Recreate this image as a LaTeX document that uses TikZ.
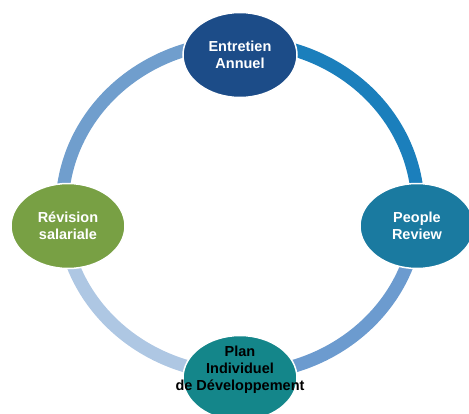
\documentclass[tikz,border=0pt]{standalone}
\usepackage{fontspec}
\setmainfont{Liberation Sans}
\usepackage{xcolor}
\usepackage{tikz}
\usetikzlibrary{shapes.geometric}

\definecolor{annuelblue}{RGB}{28,76,136}
\definecolor{peopleblue}{RGB}{26,122,160}
\definecolor{planteal}{RGB}{20,134,138}
\definecolor{salgreen}{RGB}{120,160,68}
\definecolor{arcnw}{RGB}{112,158,205}
\definecolor{arcne}{RGB}{27,127,188}
\definecolor{arcse}{RGB}{108,155,207}
\definecolor{arcsw}{RGB}{174,199,227}

\begin{document}
\begin{tikzpicture}[x=1pt,y=1pt]
    \tikzset{bubble/.style = {shape=ellipse,draw=white,line width=1.5pt,minimum width=114pt,minimum height=85pt,inner sep=0pt,
                              align=center,text=white,font=\bfseries\fontsize{14.5}{17}\selectfont}}
    \tikzset{ring/.style = {line width=13pt}}

    \useasboundingbox (-240,-205) rectangle (229,208);

    % ring
    \foreach \name/\ang in {n/90,w/186,s/270,e/354}
    {
      \coordinate (ring\name) at ({178*cos(\ang)},{166*sin(\ang)});
    }
    \foreach \from/\a/\b/\col in {n/90/186/arcnw,w/186/270/arcsw,s/270/354/arcse,e/-6/90/arcne}
    {
      \draw[ring,\col] (ring\from) arc[start angle=\a,end angle=\b,x radius=178,y radius=166];
    }

    % bubbles
    \node[bubble,fill=annuelblue] (annuel) at (0,153) {Entretien\\Annuel};
    \node[bubble,fill=salgreen] (salaire) at (-172,-18) {R\'evision\\salariale};
    \node[bubble,fill=peopleblue] (people) at (177,-18) {People\\Review};
    \node[bubble,fill=planteal,text=black,text height=40pt,text depth=16pt] (plan) at (0,-170)
      {Plan\\Individuel\\\makebox[0pt]{de D\'eveloppement}};

\end{tikzpicture}
\end{document}
